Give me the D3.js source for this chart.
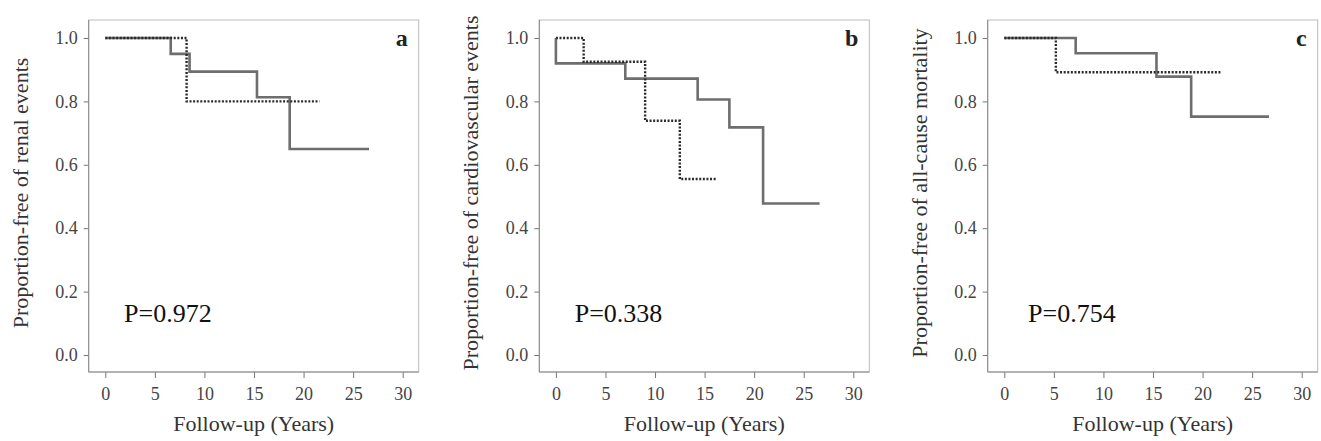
<!DOCTYPE html>
<html>
<head>
<meta charset="utf-8">
<script src="https://cdn.jsdelivr.net/npm/d3@7"></script>
<style>
  body { margin: 0; background: #fff; }
  svg { display: block; font-family: "Liberation Serif", "Times New Roman", serif; }
  .tick text { fill: #444; font-size: 18px; }
  .tick line { stroke: #777; }
</style>
</head>
<body>
<svg width="1321" height="441"></svg>
<script>
// panel texts
const letters = ["a", "b", "c"];
const yTitles = [
  "Proportion-free of renal events",
  "Proportion-free of cardiovascular events",
  "Proportion-free of all-cause mortality"
];
const pValues = ["P=0.972", "P=0.338", "P=0.754"];
const xTitle = "Follow-up (Years)";

// tick values
const xTicks = [0, 5, 10, 15, 20, 25, 30];
const yTicks = [0.0, 0.2, 0.4, 0.6, 0.8, 1.0];

// survival steps (time in years, proportion free)
const aSolidTime = [0, 6.6, 8.5, 15.3, 18.6, 26.6];
const aSolidSurv = [1, 0.95, 0.894, 0.813, 0.65, 0.65];
const aDotTime = [0, 8.2, 21.6];
const aDotSurv = [1, 0.8, 0.8];

const bSolidTime = [0, 0, 7.0, 14.3, 17.5, 20.9, 26.6];
const bSolidSurv = [1, 0.92, 0.872, 0.806, 0.718, 0.478, 0.478];
const bDotTime = [0, 2.8, 9.0, 12.5, 16.2];
const bDotSurv = [1, 0.925, 0.739, 0.555, 0.555];

const cSolidTime = [0, 7.2, 15.35, 18.85, 26.7];
const cSolidSurv = [1, 0.952, 0.878, 0.752, 0.752];
const cDotTime = [0, 5.2, 21.9];
const cDotSurv = [1, 0.892, 0.892];

const solids = [[aSolidTime, aSolidSurv], [bSolidTime, bSolidSurv], [cSolidTime, cSolidSurv]];
const dots = [[aDotTime, aDotSurv], [bDotTime, bDotSurv], [cDotTime, cDotSurv]];

// layout
const frameW = 330, frameH = 352, frameTop = 20;
const lefts = [88.7, 539.3, 987.7];
const pAt = [1.9, 1.9, 2.4];

const x = d3.scaleLinear().domain([0, 30]).range([16.6, 314]);
const y = d3.scaleLinear().domain([0, 1]).range([335, 18]);

const line = d3.line()
  .x(d => x(d[0]))
  .y(d => y(d[1]))
  .curve(d3.curveStepAfter);

const svg = d3.select("svg");

letters.forEach((letter, i) => {
  const g = svg.append("g")
    .attr("transform", "translate(" + lefts[i] + "," + frameTop + ")");

  // light frame top/right
  g.append("rect")
    .attr("x", 0).attr("y", 0)
    .attr("width", frameW).attr("height", frameH)
    .attr("fill", "none")
    .attr("stroke", "#bbb")
    .attr("stroke-width", 1);

  // axes
  const xAxis = g.append("g")
    .attr("transform", "translate(0," + frameH + ")")
    .call(d3.axisBottom(x).tickValues(xTicks).tickSize(6).tickPadding(9))
    .attr("font-family", null)
    .attr("font-size", null);
  xAxis.select(".domain").remove();

  const yAxis = g.append("g")
    .call(d3.axisLeft(y).tickValues(yTicks).tickFormat(d3.format(".1f")).tickSize(5).tickPadding(6))
    .attr("font-family", null)
    .attr("font-size", null);
  yAxis.select(".domain").remove();

  g.append("line")
    .attr("x1", 0).attr("x2", 0).attr("y1", 0).attr("y2", frameH)
    .attr("stroke", "#888");
  g.append("line")
    .attr("x1", 0).attr("x2", frameW).attr("y1", frameH).attr("y2", frameH)
    .attr("stroke", "#888");

  // curves
  g.append("path")
    .attr("d", line(d3.zip(solids[i][0], solids[i][1])))
    .attr("fill", "none")
    .attr("stroke", "#6e6e6e")
    .attr("stroke-width", 2.6);

  g.append("path")
    .attr("d", line(d3.zip(dots[i][0], dots[i][1])))
    .attr("fill", "none")
    .attr("stroke", "#2a2a2a")
    .attr("stroke-width", 2.4)
    .attr("stroke-dasharray", "2,1.6");

  // panel letter
  g.append("text")
    .attr("x", frameW - 11)
    .attr("y", 26)
    .attr("text-anchor", "end")
    .attr("font-size", 24)
    .attr("font-weight", "bold")
    .attr("fill", "#222")
    .text(letter);

  // p value
  g.append("text")
    .attr("x", x(pAt[i]))
    .attr("y", y(0.105))
    .attr("font-size", 26)
    .attr("fill", "#111")
    .text(pValues[i]);

  // axis titles
  g.append("text")
    .attr("x", frameW / 2)
    .attr("y", 411)
    .attr("text-anchor", "middle")
    .attr("font-size", 22)
    .attr("fill", "#333")
    .text(xTitle);

  g.append("text")
    .attr("transform", "rotate(-90)")
    .attr("x", -173)
    .attr("y", -61)
    .attr("text-anchor", "middle")
    .attr("font-size", 22)
    .attr("fill", "#333")
    .text(yTitles[i]);
});
</script>
</body>
</html>
